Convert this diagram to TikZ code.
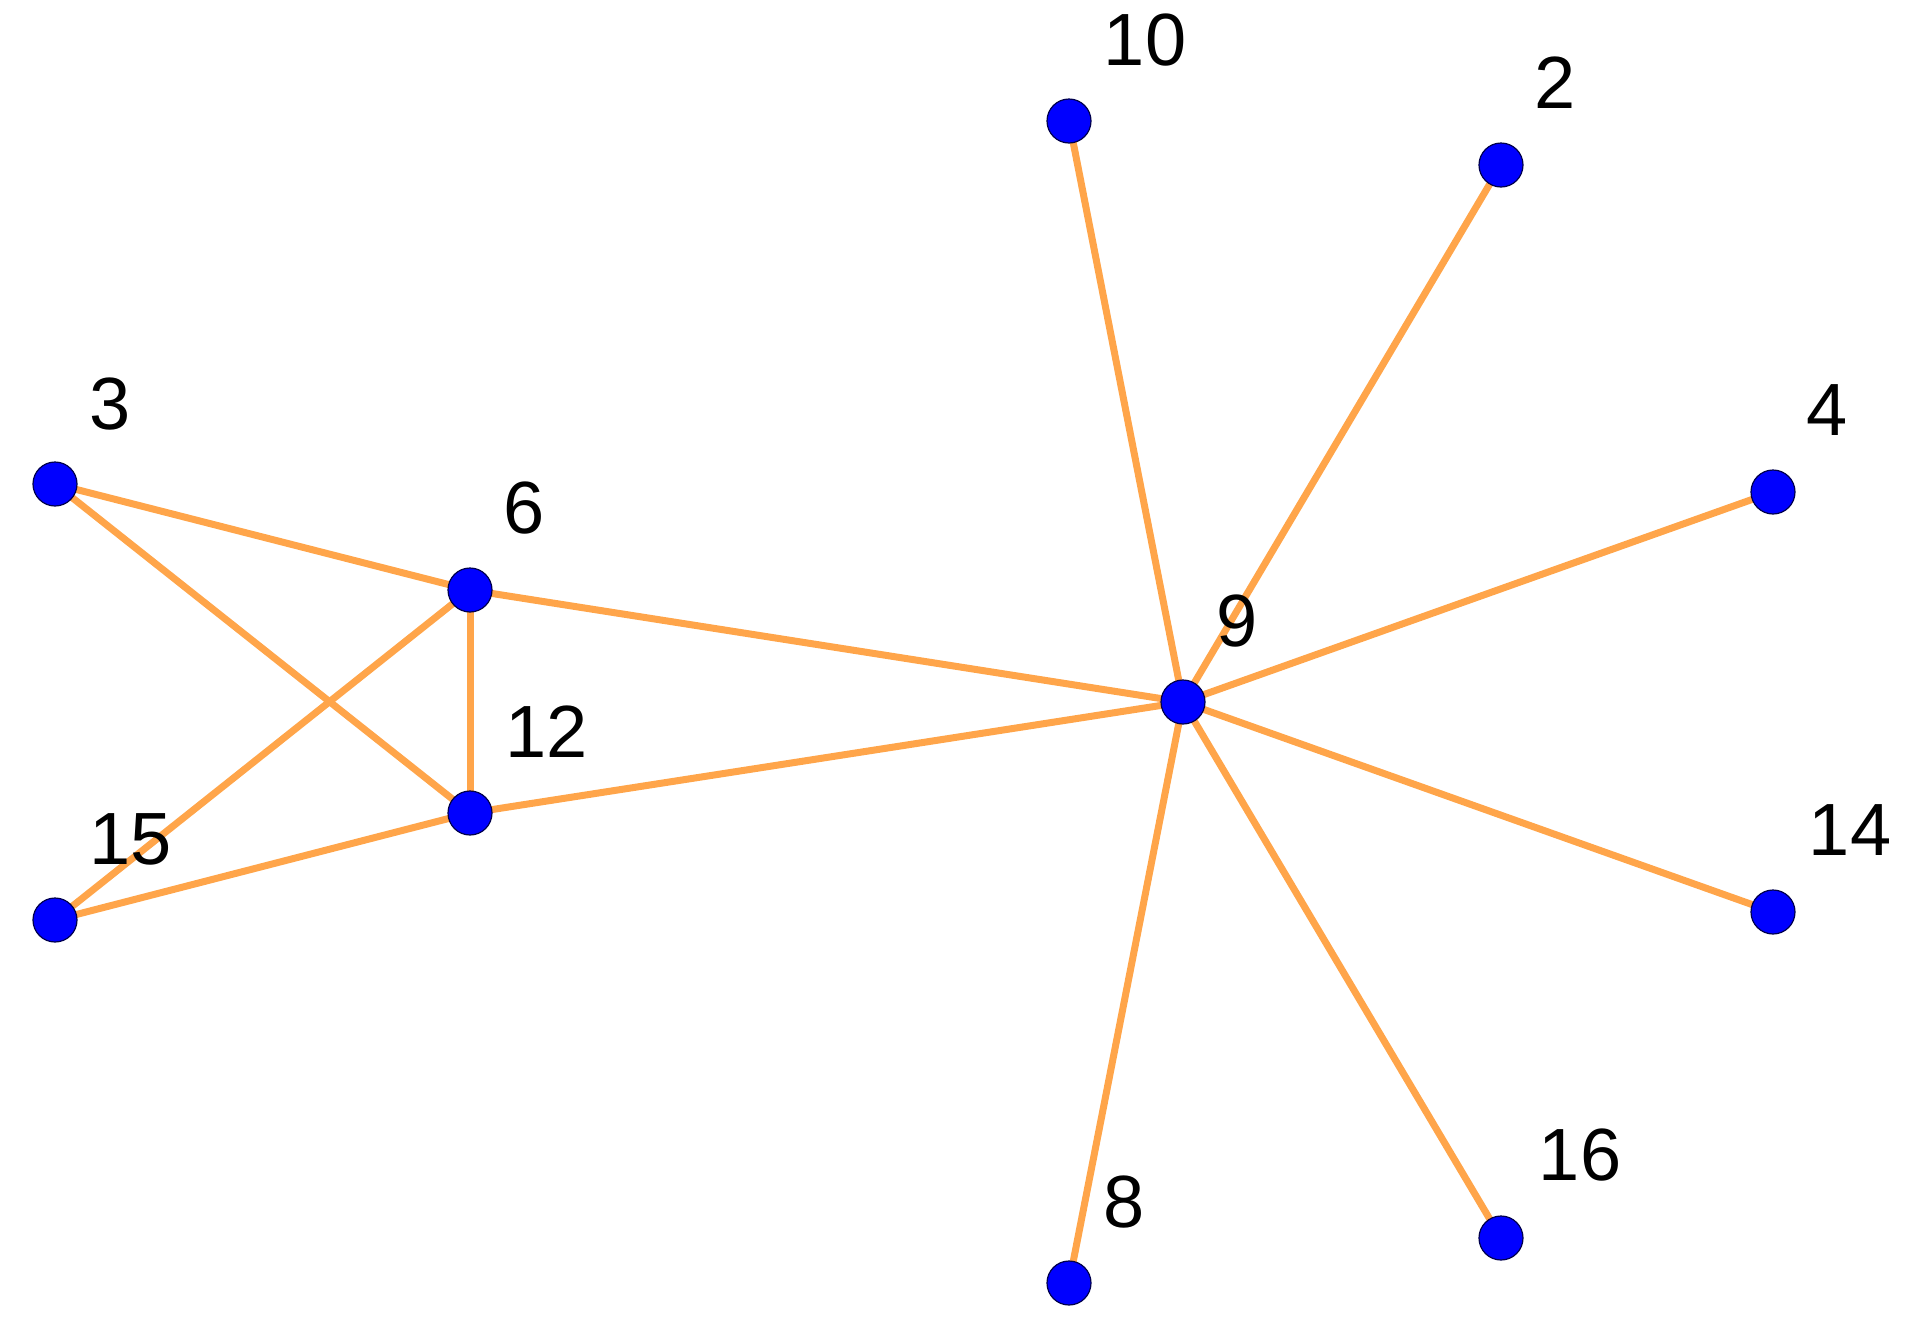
\documentclass[tikz,border=0pt]{standalone}
\usepackage{fontspec}
\setmainfont{Liberation Sans}
\begin{document}
\begin{tikzpicture}[x=1pt,y=-1pt,
  vtx/.style={circle,fill=blue,draw=black!70!blue,line width=1.2pt,minimum size=44pt,inner sep=0pt},
  edge/.style={draw=orange!70!yellow!90!white,color={rgb,255:red,255;green,165;blue,74},line width=7pt},
  lab/.style={font=\fontsize{74}{80}\selectfont,inner sep=0pt}]
\useasboundingbox (0,0) rectangle (1920,1323);
\foreach \n/\x/\y in {10/1069/121,2/1501/165,4/1773/492,3/55/484,6/470/590,9/1183/702,12/470/813,15/55/920,14/1773/912,16/1501/1238,8/1069/1283}
  \coordinate (p\n) at (\x,\y);
\foreach \a/\b in {3/6,3/12,6/15,6/12,6/9,12/9,12/15,9/10,9/2,9/4,9/14,9/16,9/8}
  \draw[edge] (p\a) -- (p\b);
\foreach \n in {10,2,4,3,6,9,12,15,14,16,8}
  \node[vtx] (v\n) at (p\n) {};
\foreach \n/\x/\y in {10/1145/40,2/1555/83,4/1827/410,3/110/404,6/524/508,9/1237/621,12/547/732,15/131/839,14/1850/830,16/1580/1155,8/1124/1202}
  \node[lab] (l\n) at (\x,\y) {\n};
\end{tikzpicture}
\end{document}
